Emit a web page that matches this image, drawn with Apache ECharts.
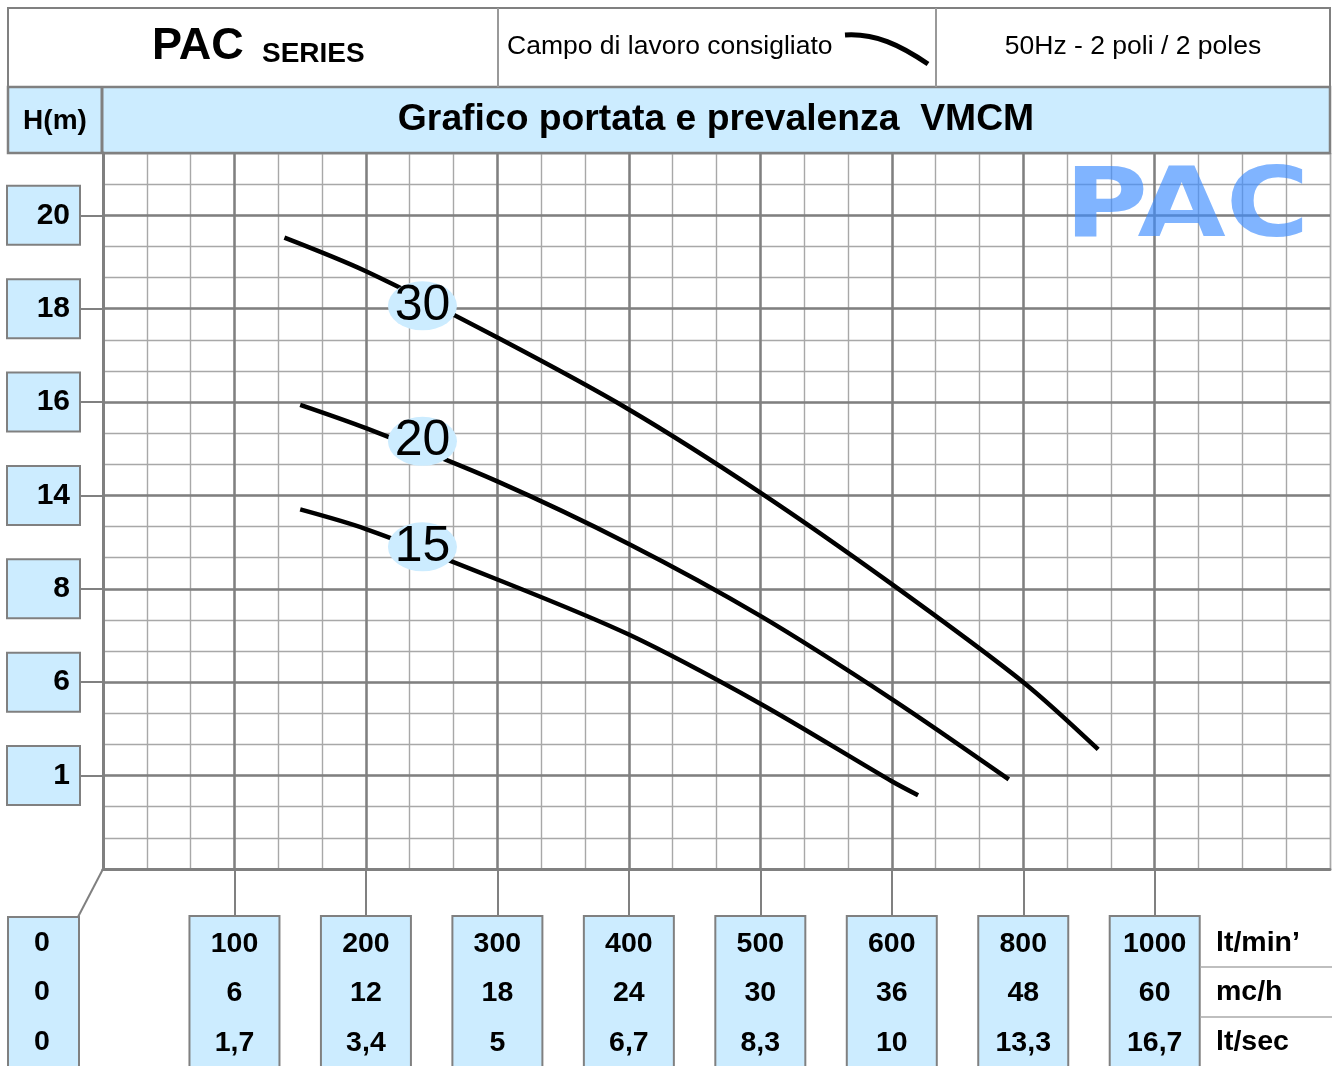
<!DOCTYPE html>
<html>
<head>
<meta charset="utf-8">
<title>PAC series - VMCM</title>
<script src="https://cdn.jsdelivr.net/npm/echarts@6/dist/echarts.min.js"></script>
<style>
  html, body { margin: 0; padding: 0; background: #fff; }
  #chart { width: 1337px; height: 1066px; }
</style>
</head>
<body>
<div id="chart"></div>
<script>
// etichette asse H(m): posizioni equidistanti 0..6
const hLabels = ['1', '6', '8', '14', '16', '18', '20'];
// portata: posizioni equidistanti 0..8
const qLitMin = ['0', '100', '200', '300', '400', '500', '600', '800', '1000'];
const qM3h = ['0', '6', '12', '18', '24', '30', '36', '48', '60'];
const qLitSec = ['0', '1,7', '3,4', '5', '6,7', '8,3', '10', '13,3', '16,7'];
const unitNames = ['lt/min\u2019', 'mc/h', 'lt/sec'];

// curve [posizione portata, posizione H]
const curve30 = [[1.38, 5.76], [2, 5.40], [3, 4.69], [4, 3.92], [5, 3.03], [6, 2.05], [7, 1.0], [7.57, 0.28]];
const curve20 = [[1.5, 3.97], [2, 3.72], [3, 3.15], [4, 2.48], [5, 1.71], [6, 0.82], [6.89, -0.04]];
const curve15 = [[1.5, 2.85], [2, 2.64], [3, 2.1], [4, 1.51], [5, 0.77], [6, -0.06], [6.2, -0.21]];
const curveNames = ['30', '20', '15'];
const curveTags = [[2.43, 5.03], [2.43, 3.58], [2.43, 2.45]];

const FONT = '"Liberation Sans", Arial, sans-serif';
const BLUE = '#ccecff';
const MAJOR = '#808080';
const MINOR = '#a8a8a8';

let chart = echarts.init(document.getElementById('chart'));

function curveSeries(data, i) {
  return {
    name: curveNames[i],
    type: 'line',
    xAxisIndex: 0,
    yAxisIndex: 0,
    data: data,
    smooth: 0.3,
    showSymbol: false,
    z: 3,
    lineStyle: {color: '#000', width: 4.5},
    markPoint: {
      symbol: 'circle',
      symbolSize: [69, 49],
      itemStyle: {color: BLUE},
      label: {show: true, position: 'inside', formatter: curveNames[i], color: '#000', fontSize: 50, fontFamily: FONT},
      data: [{coord: curveTags[i]}]
    }
  }
}

function txt(text, x, y, size, weight, align) {
  return {
    type: 'text', z: 20,
    style: {
      text: text, x: x, y: y, fill: '#000',
      font: weight + ' ' + size + 'px ' + FONT,
      align: align || 'center', verticalAlign: 'middle'
    }
  }
}

let ticksX = [1, 2, 3, 4, 5, 6, 7, 8];
let ticksY = [0, 1, 2, 3, 4, 5, 6];

let graphics = [
  // intestazione
  {type: 'rect', z: 1, shape: {x: 8, y: 8, width: 1322, height: 79}, style: {fill: '#fff', stroke: MAJOR, lineWidth: 2}},
  {type: 'rect', z: 1, shape: {x: 8, y: 87, width: 1322, height: 66}, style: {fill: BLUE, stroke: MAJOR, lineWidth: 2.5}},
  {type: 'line', z: 2, shape: {x1: 498, y1: 8, x2: 498, y2: 87}, style: {stroke: '#999', lineWidth: 2}},
  {type: 'line', z: 2, shape: {x1: 936, y1: 8, x2: 936, y2: 87}, style: {stroke: '#999', lineWidth: 2}},
  {type: 'line', z: 2, shape: {x1: 102, y1: 87, x2: 102, y2: 153}, style: {stroke: MAJOR, lineWidth: 3}},
  txt('PAC', 152, 47, 45, 'bold', 'left'),
  txt('SERIES', 262, 54, 28, 'bold', 'left'),
  txt('Campo di lavoro consigliato', 507, 47, 26.5, 'normal', 'left'),
  {type: 'bezierCurve', z: 2, shape: {x1: 845, y1: 35, cpx1: 875, cpy1: 33, cpx2: 900, cpy2: 45, x2: 928, y2: 64},
    style: {stroke: '#000', lineWidth: 5, fill: null}},
  txt('50Hz - 2 poli / 2 poles', 1133, 47, 26.5, 'normal', 'center'),
  txt('H(m)', 55, 121, 28, 'bold', 'center'),
  txt('Grafico portata e prevalenza  VMCM', 716, 120, 37.3, 'bold', 'center'),
  // scritta PAC
  {type: 'text', z: 10, x: 1187, y: 211, scaleY: 0.85,
    style: {text: 'PAC', x: 0, y: 0, fill: 'rgba(60,140,255,0.65)', font: 'bold 114px "DejaVu Sans", sans-serif', align: 'center', verticalAlign: 'middle'}},
  // colonna 0
  {type: 'rect', z: 1, shape: {x: 8, y: 917, width: 71, height: 160}, style: {fill: BLUE, stroke: MAJOR, lineWidth: 2}},
  {type: 'line', z: 2, shape: {x1: 103, y1: 869, x2: 78, y2: 917}, style: {stroke: MAJOR, lineWidth: 2}},
  {type: 'line', z: 2, shape: {x1: 1200, y1: 967, x2: 1332, y2: 967}, style: {stroke: '#aaa', lineWidth: 1.5}},
  {type: 'line', z: 2, shape: {x1: 1200, y1: 1017, x2: 1332, y2: 1017}, style: {stroke: '#aaa', lineWidth: 1.5}}
];
let rowsY = [943, 992, 1042];
[qLitMin[0], qM3h[0], qLitSec[0]].forEach((t, i) => graphics.push(txt(t, 42, rowsY[i], 28.5, 'bold', 'center')));
unitNames.forEach((t, i) => graphics.push(txt(t, 1216, rowsY[i], 28.5, 'bold', 'left')));

let option = {
  animation: false,
  backgroundColor: '#fff',
  grid: {left: 103, right: 7, top: 153, bottom: 197, outerBoundsMode: 'none', containLabel: false},
  xAxis: [
    {
      type: 'value', min: 0, max: 28 / 3, interval: 1, position: 'bottom', z: 1,
      axisLine: {show: true, onZero: false, lineStyle: {color: MAJOR, width: 3}},
      axisTick: {show: true, customValues: ticksX, length: 48, lineStyle: {color: MAJOR, width: 2}},
      axisLabel: {
        customValues: ticksX,
        formatter: v => {
          let i = Math.round(v)
          return qLitMin[i] + '\n' + qM3h[i] + '\n' + qLitSec[i]
        },
        margin: 48, color: '#000', fontSize: 28.5, fontWeight: 'bold', fontFamily: FONT,
        lineHeight: 49.5, align: 'center', verticalAlign: 'top',
        width: 88, padding: [2, 0, 20, 0],
        backgroundColor: BLUE, borderColor: MAJOR, borderWidth: 2
      },
      splitLine: {show: true, lineStyle: {color: [MAJOR, MAJOR, MAJOR, MAJOR, MAJOR, MAJOR, MAJOR, MAJOR, MAJOR, 'rgba(0,0,0,0)', MINOR], width: 2.5}}
    },
    {
      type: 'value', min: 0, max: 28 / 3, interval: 1 / 3, position: 'top', z: 0,
      axisLine: {show: false}, axisTick: {show: false}, axisLabel: {show: false},
      splitLine: {show: true, lineStyle: {color: MINOR, width: 1.4}}
    }
  ],
  yAxis: [
    {
      type: 'value', min: -1, max: 20 / 3, interval: 1, position: 'left', z: 1,
      axisLine: {show: true, onZero: false, lineStyle: {color: MAJOR, width: 3}},
      axisTick: {show: true, customValues: ticksY, length: 24, lineStyle: {color: MAJOR, width: 2}},
      axisLabel: {
        customValues: ticksY,
        formatter: v => hLabels[Math.round(v)],
        margin: 24, color: '#000', fontSize: 30, fontWeight: 'bold', fontFamily: FONT,
        align: 'right', verticalAlign: 'middle', lineHeight: 57,
        width: 62, padding: [0, 9, 0, 0],
        backgroundColor: BLUE, borderColor: MAJOR, borderWidth: 2
      },
      splitLine: {show: true, lineStyle: {color: MAJOR, width: 2.5}}
    },
    {
      type: 'value', min: -1, max: 20 / 3, interval: 1 / 3, position: 'right', z: 0,
      axisLine: {show: false}, axisTick: {show: false}, axisLabel: {show: false},
      splitLine: {show: true, lineStyle: {color: MINOR, width: 1.4}}
    }
  ],
  graphic: {elements: graphics},
  series: [curve30, curve20, curve15].map(curveSeries)
};

chart.setOption(option);
</script>
</body>
</html>
